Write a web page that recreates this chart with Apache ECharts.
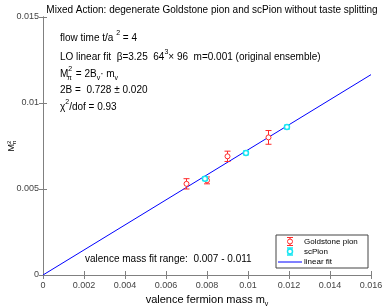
<!DOCTYPE html>
<html><head><meta charset="utf-8">
<script src="https://cdn.jsdelivr.net/npm/echarts@6/dist/echarts.min.js"></script>
<style>html,body{margin:0;padding:0;background:#fff}#c{width:382px;height:308px}</style>
</head><body><div id="c"></div>
<script>
// Data
const goldX = [0.007, 0.008, 0.009, 0.011];
const goldY = [0.0053, 0.0055, 0.0069, 0.0080];
const goldErr = [0.0003, 0.0002, 0.0003, 0.0004];
const scX = [0.0079, 0.0099, 0.0119];
const scY = [0.0056, 0.0071, 0.0086];
const scErr = [0.0001, 0.0001, 0.0001];
const fitSlope = 0.728;
const fitX = [0, 0.016];
const legendNames = ['Goldstone pion', 'scPion', 'linear fit'];

const FONT = '"Liberation Sans", Arial, sans-serif';
const RED = '#ff2a2a', CYAN = '#19e6f2', BLUE = '#0000ff';
const chart = echarts.init(document.getElementById('c'));

function errData(xs, ys, es) { return xs.map((x, i) => [x, ys[i], ys[i] - es[i], ys[i] + es[i]]); }

function markerShapes(cx, cy, yl, yh, color, lw, r, z) {
  const st = { stroke: color, lineWidth: lw, fill: null };
  const cap = 3;
  const el = (o) => { if (z != null) o.z = z; return o; };
  return [
    el({ type: 'line', shape: { x1: cx, y1: yl, x2: cx, y2: yh }, style: st }),
    el({ type: 'line', shape: { x1: cx - cap, y1: yl, x2: cx + cap, y2: yl }, style: st }),
    el({ type: 'line', shape: { x1: cx - cap, y1: yh, x2: cx + cap, y2: yh }, style: st }),
    el({ type: 'circle', shape: { cx: cx, cy: cy, r: r }, style: Object.assign({}, st, { fill: '#fff' }) })
  ];
}

function makeRender(color, lw, r) {
  return function (params, api) {
    const x = api.value(0), y = api.value(1), lo = api.value(2), hi = api.value(3);
    const p = api.coord([x, y]), pl = api.coord([x, lo]), ph = api.coord([x, hi]);
    return { type: 'group', children: markerShapes(p[0], p[1], pl[1], ph[1], color, lw, r) };
  };
}

const axisCommon = {
  axisLine: { show: true, lineStyle: { color: '#808080', width: 1 } },
  axisTick: { show: true, inside: true, length: 4, lineStyle: { color: '#808080' } },
  splitLine: { show: false }
};
const fmt = v => String(parseFloat(v.toFixed(4)));

// segmented text with super/subscripts
const ctx = document.createElement('canvas').getContext('2d');
function seg(x, cy, parts) {
  const out = [];
  let cx = x;
  parts.forEach(([t, k]) => {
    const size = k === 'n' ? 10 : 7;
    const dy = k === 'sup' ? -4.5 : (k === 'sub' ? 4 : 0);
    const font = size + 'px ' + FONT;
    ctx.font = font;
    out.push({ type: 'text', x: cx, y: cy + dy, z: 10,
      style: { text: t, font: font, fill: '#000', verticalAlign: 'middle', align: 'left' } });
    cx += ctx.measureText(t).width;
  });
  return out;
}

// legend drawn as graphic
const LG = { x: 276, y: 235, w: 92, h: 33 };
const legendGraphic = [
  { type: 'rect', shape: { x: LG.x, y: LG.y, width: LG.w, height: LG.h }, style: { fill: '#fff', stroke: '#444', lineWidth: 1 }, z: 20 }
].concat(markerShapes(290, 241.5, 237.5, 245.5, RED, 1, 2.5, 21))
 .concat(markerShapes(290, 251.5, 248, 255, CYAN, 1.5, 2.5, 21))
 .concat([
  { type: 'line', z: 21, shape: { x1: 278, y1: 262, x2: 302, y2: 262 }, style: { stroke: BLUE, lineWidth: 1 } },
  { type: 'text', z: 21, x: 304, y: 241.5, style: { text: legendNames[0], font: '8px ' + FONT, fill: '#000', verticalAlign: 'middle' } },
  { type: 'text', z: 21, x: 304, y: 251.5, style: { text: legendNames[1], font: '8px ' + FONT, fill: '#000', verticalAlign: 'middle' } },
  { type: 'text', z: 21, x: 304, y: 262, style: { text: legendNames[2], font: '8px ' + FONT, fill: '#000', verticalAlign: 'middle' } }
]);

chart.setOption({
  animation: false,
  backgroundColor: '#fff',
  title: {
    text: 'Mixed Action: degenerate Goldstone pion and scPion without taste splitting',
    left: 207, top: 0, textAlign: 'center',
    textStyle: { fontFamily: FONT, fontSize: 10, fontWeight: 'normal', color: '#000' }
  },
  grid: { left: 43, right: 11, top: 17, bottom: 33, containLabel: false, outerBoundsMode: 'none' },
  xAxis: [
    Object.assign({ type: 'value', min: 0, max: 0.016, interval: 0.002, position: 'bottom',
      name: 'valence fermion mass m{s|v}', nameLocation: 'middle', nameGap: 16,
      nameTextStyle: { fontFamily: FONT, fontSize: 11, color: '#000',
        rich: { s: { fontSize: 7, padding: [7, 0, 0, 0], fontFamily: FONT } } },
      axisLabel: { formatter: fmt, fontFamily: FONT, fontSize: 9, color: '#444', margin: 6 } }, axisCommon),
    Object.assign({ type: 'value', min: 0, max: 0.016, interval: 0.002, position: 'top',
      axisLabel: { show: false } }, axisCommon)
  ],
  yAxis: [
    Object.assign({ type: 'value', min: 0, max: 0.015, interval: 0.005, position: 'left',
      name: 'M{p|2}{s|π}', nameLocation: 'middle', nameGap: 25, nameRotate: 90, nameMoveOverlap: false,
      nameTextStyle: { fontFamily: FONT, fontSize: 9, color: '#000',
        rich: { p: { fontSize: 6, fontFamily: FONT, padding: [0, 0, 6, 0] }, s: { fontSize: 6, fontFamily: FONT, padding: [4, 0, 0, -4] } } },
      axisLabel: { formatter: fmt, fontFamily: FONT, fontSize: 9, color: '#444', margin: 4 } }, axisCommon),
    Object.assign({ type: 'value', min: 0, max: 0.015, interval: 0.005, position: 'right',
      axisLabel: { show: false } }, axisCommon)
  ],
  series: [
    { name: legendNames[2], type: 'line', data: fitX.map(x => [x, fitSlope * x]), symbol: 'none',
      lineStyle: { color: BLUE, width: 1 }, z: 3 },
    { name: legendNames[0], type: 'custom', data: errData(goldX, goldY, goldErr),
      renderItem: makeRender(RED, 1, 2.5), encode: { x: 0, y: 1 }, z: 4 },
    { name: legendNames[1], type: 'custom', data: errData(scX, scY, scErr),
      renderItem: makeRender(CYAN, 1.5, 2.5), encode: { x: 0, y: 1 }, z: 4 }
  ],
  graphic: [].concat(
    seg(60, 38, [['flow time t/a ', 'n'], ['2', 'sup'], [' = 4', 'n']]),
    seg(60, 57, [['LO linear fit  β=3.25  64', 'n'], ['3', 'sup'], ['× 96  m=0.001 (original ensemble)', 'n']]),
    seg(60, 74, [['M', 'n'], ['2', 'sup']]),
    seg(67, 74, [['π', 'sub']]),
    seg(73, 74, [[' = 2B', 'n'], ['v', 'sub'], ['· m', 'n'], ['v', 'sub']]),
    seg(60, 90, [['2B =  0.728 ± 0.020', 'n']]),
    seg(60, 107, [['χ', 'n'], ['2', 'sup'], ['/dof = 0.93', 'n']]),
    seg(85, 259, [['valence mass fit range:  0.007 - 0.011', 'n']]),
    legendGraphic
  )
});
</script></body></html>
